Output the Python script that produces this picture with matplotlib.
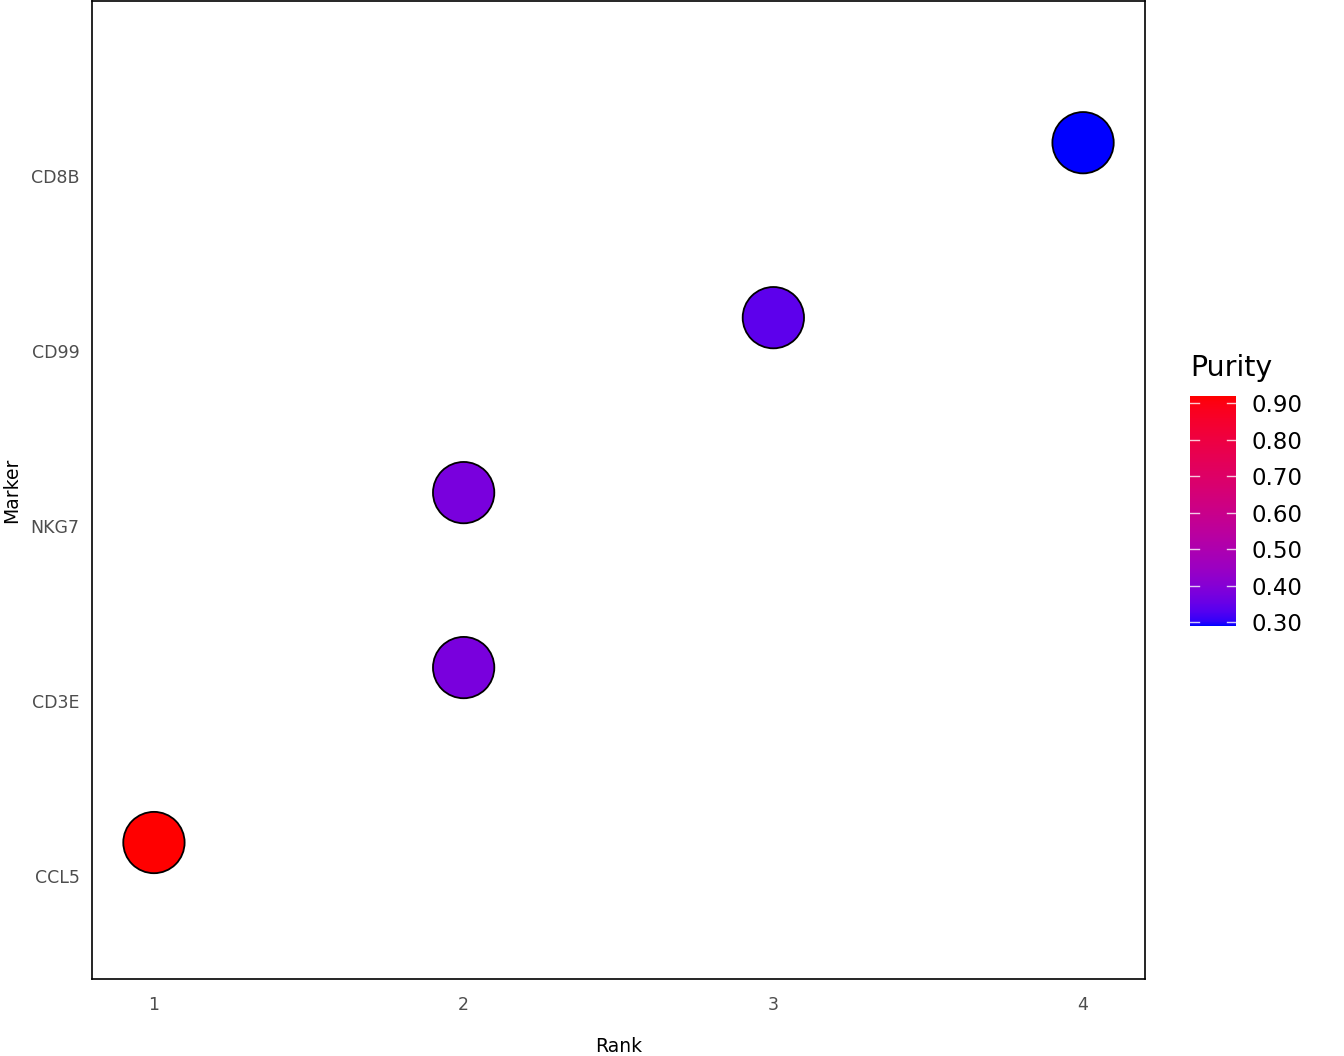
import numpy as np
import matplotlib
matplotlib.use("Agg")
import matplotlib.pyplot as plt
from matplotlib.colors import ListedColormap, Normalize

markers = ["CCL5", "CD3E", "NKG7", "CD99", "CD8B"]
rank = [1, 2, 2, 3, 4]
purity = [0.92, 0.38, 0.38, 0.34, 0.29]
cbar_ticks = [0.30, 0.40, 0.50, 0.60, 0.70, 0.80, 0.90]

# Lab interpolation blue -> red (like ggplot scale_colour_gradient)
def srgb_to_lab(c):
    c = np.asarray(c, float)
    lin = np.where(c <= 0.04045, c / 12.92, ((c + 0.055) / 1.055) ** 2.4)
    M = np.array([[0.4124, 0.3576, 0.1805], [0.2126, 0.7152, 0.0722], [0.0193, 0.1192, 0.9505]])
    xyz = M @ lin
    wp = np.array([0.95047, 1.0, 1.08883])
    t = xyz / wp
    f = np.where(t > (6/29)**3, np.cbrt(t), t / (3*(6/29)**2) + 4/29)
    return np.array([116*f[1]-16, 500*(f[0]-f[1]), 200*(f[1]-f[2])])

def lab_to_srgb(lab):
    L, a, b = lab
    fy = (L + 16) / 116
    fx = fy + a / 500
    fz = fy - b / 200
    def finv(f):
        return np.where(f > 6/29, f**3, 3*(6/29)**2*(f - 4/29))
    wp = np.array([0.95047, 1.0, 1.08883])
    xyz = wp * np.array([finv(fx), finv(fy), finv(fz)])
    Minv = np.linalg.inv(np.array([[0.4124, 0.3576, 0.1805], [0.2126, 0.7152, 0.0722], [0.0193, 0.1192, 0.9505]]))
    lin = Minv @ xyz
    lin = np.clip(lin, 0, 1)
    c = np.where(lin <= 0.0031308, 12.92*lin, 1.055*lin**(1/2.4) - 0.055)
    return np.clip(c, 0, 1)

lab_lo = srgb_to_lab([0, 0, 1])
lab_hi = srgb_to_lab([1, 0, 0])
cols = [lab_to_srgb(lab_lo + (lab_hi - lab_lo) * t) for t in np.linspace(0, 1, 256)]
cmap = ListedColormap(cols)
norm = Normalize(vmin=min(purity), vmax=max(purity))

fig = plt.figure(figsize=(13.44, 10.56), dpi=100)
ax = fig.add_axes([92/1344, 1 - 979/1056, (1145-92)/1344, (979-1)/1056])

ypos = [markers.index(m) + 1 for m in markers]
yoff = 0.19
ax.scatter(rank, np.array(ypos) + yoff, c=purity, cmap=cmap, norm=norm, s=1950,
           edgecolors="black", linewidths=1.3, zorder=3)

ax.set_xlim(0.8, 4.2)
ax.set_ylim(0.41, 6.0)
ax.set_xticks([1, 2, 3, 4])
ax.set_xticklabels(["1", "2", "3", "4"])
ax.set_yticks(range(1, len(markers) + 1))
ax.set_yticklabels(markers)
ax.tick_params(length=0, labelsize=12.5, labelcolor="#4d4d4d", pad=12)
ax.tick_params(axis="y", pad=9)
for s in ax.spines.values():
    s.set_linewidth(1.2)
    s.set_color("black")
ax.set_xlabel("Rank", fontsize=13.5, labelpad=17)
ax.set_ylabel("Marker", fontsize=13.5, labelpad=7)

cax = fig.add_axes([1190/1344, 1 - 626/1056, 46/1344, 230/1056])
sm = matplotlib.cm.ScalarMappable(norm=norm, cmap=cmap)
cb = fig.colorbar(sm, cax=cax, ticks=cbar_ticks)
cb.outline.set_visible(False)
cb.set_ticklabels([f"{t:.2f}" for t in cbar_ticks])
cax.tick_params(length=0, labelsize=16.5, pad=11)
for t in cbar_ticks:
    cax.plot([0, 0.2], [t, t], color="white", lw=1, alpha=0.8)
    cax.plot([0.8, 1.0], [t, t], color="white", lw=1, alpha=0.8)
fig.text(1190/1344, 1 - 368/1056, "Purity", fontsize=20.5, va="center", ha="left")

fig.savefig("out.png", dpi=100)
